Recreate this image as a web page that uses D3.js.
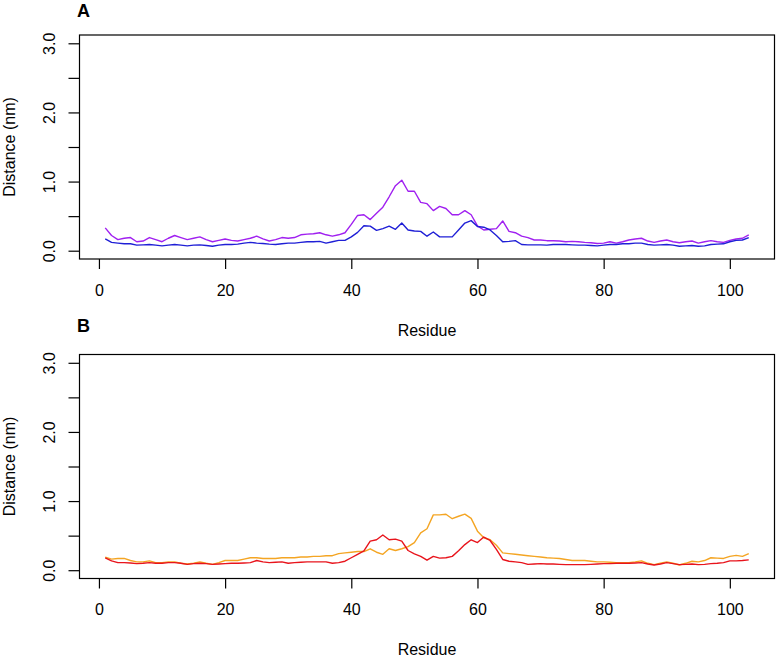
<!DOCTYPE html>
<html>
<head>
<meta charset="utf-8">
<script src="https://cdn.jsdelivr.net/npm/d3@7/dist/d3.min.js"></script>
<style>
  body { margin: 0; background: #fff; }
  svg { display: block; font-family: "Liberation Sans", Arial, Helvetica, sans-serif; }
</style>
</head>
<body>
<svg id="chart" width="779" height="659"></svg>
<script>
// ---- Data ----
const residues = d3.range(1, 104);
const xTicks = [0, 20, 40, 60, 80, 100];
const yTicks = [0, 0.5, 1, 1.5, 2, 2.5, 3];
const yTickLabels = ["0.0", "", "1.0", "", "2.0", "", "3.0"];
const panelTitles = ["A", "B"];

const seriesA_purple = [0.33,0.22,0.16,0.18,0.19,0.13,0.14,0.19,0.16,0.13,0.18,0.22,0.19,0.16,0.18,0.20,0.16,0.13,0.15,0.17,
0.15,0.14,0.16,0.18,0.21,0.17,0.14,0.16,0.19,0.18,0.19,0.23,0.24,0.245,0.26,0.23,0.21,0.23,0.26,0.38,
0.51,0.52,0.45,0.54,0.63,0.78,0.94,1.02,0.86,0.86,0.70,0.68,0.58,0.64,0.61,0.52,0.52,0.58,0.52,0.36,
0.30,0.31,0.32,0.43,0.28,0.26,0.21,0.19,0.155,0.155,0.145,0.145,0.14,0.13,0.135,0.13,0.12,0.115,0.105,0.11,
0.13,0.11,0.13,0.155,0.17,0.18,0.14,0.12,0.14,0.155,0.13,0.115,0.13,0.14,0.11,0.13,0.145,0.13,0.12,0.15,
0.17,0.18,0.23];
const seriesA_blue = [0.17,0.12,0.11,0.10,0.10,0.08,0.085,0.09,0.08,0.07,0.08,0.09,0.08,0.07,0.08,0.085,0.075,0.065,0.08,0.09,
0.09,0.095,0.11,0.12,0.11,0.105,0.095,0.09,0.10,0.11,0.11,0.12,0.13,0.13,0.135,0.11,0.13,0.15,0.15,0.20,
0.265,0.36,0.355,0.295,0.32,0.355,0.31,0.40,0.30,0.285,0.28,0.21,0.27,0.20,0.20,0.20,0.30,0.40,0.435,0.35,
0.34,0.30,0.22,0.13,0.135,0.145,0.09,0.085,0.085,0.085,0.08,0.09,0.09,0.09,0.085,0.08,0.08,0.075,0.07,0.08,
0.09,0.09,0.10,0.10,0.11,0.11,0.09,0.08,0.085,0.09,0.08,0.065,0.07,0.075,0.065,0.07,0.09,0.095,0.10,0.13,
0.15,0.155,0.19];
const seriesB_orange = [0.19,0.16,0.17,0.17,0.14,0.12,0.12,0.135,0.11,0.11,0.12,0.12,0.10,0.09,0.10,0.12,0.10,0.085,0.11,0.14,
0.14,0.14,0.16,0.18,0.18,0.17,0.17,0.17,0.18,0.18,0.18,0.19,0.19,0.20,0.20,0.21,0.21,0.24,0.25,0.26,
0.27,0.27,0.31,0.26,0.23,0.31,0.285,0.31,0.34,0.40,0.54,0.60,0.80,0.80,0.81,0.745,0.78,0.81,0.75,0.565,
0.47,0.44,0.36,0.25,0.24,0.23,0.22,0.21,0.20,0.19,0.18,0.175,0.17,0.155,0.14,0.14,0.14,0.13,0.12,0.12,
0.115,0.11,0.11,0.11,0.12,0.135,0.10,0.08,0.10,0.12,0.10,0.075,0.10,0.13,0.12,0.14,0.18,0.175,0.17,0.20,
0.215,0.20,0.24];
const seriesB_red = [0.18,0.135,0.11,0.11,0.105,0.095,0.10,0.11,0.10,0.10,0.11,0.11,0.10,0.085,0.095,0.10,0.095,0.085,0.09,0.095,
0.10,0.10,0.105,0.11,0.14,0.12,0.11,0.115,0.12,0.10,0.11,0.115,0.12,0.12,0.12,0.12,0.10,0.11,0.13,0.18,
0.23,0.28,0.42,0.44,0.51,0.44,0.45,0.42,0.285,0.235,0.20,0.145,0.20,0.175,0.18,0.20,0.28,0.37,0.44,0.40,
0.48,0.43,0.30,0.155,0.13,0.12,0.11,0.085,0.09,0.095,0.09,0.09,0.085,0.08,0.08,0.08,0.08,0.085,0.09,0.095,
0.095,0.10,0.10,0.10,0.105,0.11,0.09,0.075,0.09,0.11,0.095,0.08,0.085,0.09,0.08,0.085,0.095,0.10,0.11,0.135,
0.135,0.14,0.15];

const panels = [
  { title: panelTitles[0], series: [seriesA_purple, seriesA_blue], colors: ["#A020F0", "#1F1FD6"], top: 35 },
  { title: panelTitles[1], series: [seriesB_orange, seriesB_red], colors: ["#F4A523", "#E8141C"], top: 354.5 }
];

const svg = d3.select("#chart");
const left = 79.5, right = 774.5, plotH = 224;
const x = d3.scaleLinear().domain([-3.08, 107.08]).range([left, right]);

panels.forEach((p, i) => {
  const top = p.top, bottom = top + plotH;
  const y = d3.scaleLinear().domain([-0.12, 3.12]).range([bottom, top]);
  const g = svg.append("g");

  // data lines (clipped to box)
  const line = d3.line().x((d, j) => x(residues[j])).y(d => y(d));
  p.series.forEach((s, k) => {
    g.append("path").datum(s)
      .attr("d", line)
      .attr("fill", "none")
      .attr("stroke", p.colors[k])
      .attr("stroke-width", 1.4)
      .attr("stroke-linejoin", "round");
  });

  // box
  g.append("rect")
    .attr("x", left).attr("y", top)
    .attr("width", right - left).attr("height", plotH)
    .attr("fill", "none").attr("stroke", "#000").attr("stroke-width", 1.2);

  // x axis
  const xAxis = d3.axisBottom(x).tickValues(xTicks).tickSize(10).tickPadding(10).tickSizeOuter(0);
  const xa = g.append("g").attr("transform", `translate(0,${bottom})`).call(xAxis);
  xa.select(".domain").remove();
  xa.selectAll("line").attr("stroke", "#000").attr("stroke-width", 1.2);
  xa.selectAll("text").attr("font-size", 16).attr("fill", "#000")
    .attr("font-family", "Liberation Sans, Arial, sans-serif")
    .attr("dy", null).attr("y", 36.5);

  // y axis
  const yAxis = d3.axisLeft(y).tickValues(yTicks).tickSize(11).tickSizeOuter(0)
    .tickFormat((d, j) => yTickLabels[j]);
  const ya = g.append("g").attr("transform", `translate(${left},0)`).call(yAxis);
  ya.select(".domain").remove();
  ya.selectAll("line").attr("stroke", "#000").attr("stroke-width", 1.2);
  ya.selectAll("text")
    .attr("font-size", 16).attr("fill", "#000")
    .attr("font-family", "Liberation Sans, Arial, sans-serif")
    .attr("x", null).attr("dy", null)
    .attr("text-anchor", "middle")
    .attr("transform", `translate(${55 - left},0) rotate(-90)`);

  // axis titles
  g.append("text")
    .attr("x", (left + right) / 2).attr("y", bottom + 76.5)
    .attr("text-anchor", "middle").attr("font-size", 16).attr("fill", "#000")
    .text("Residue");
  g.append("text")
    .attr("transform", `translate(15,${(top + bottom) / 2}) rotate(-90)`)
    .attr("text-anchor", "middle").attr("font-size", 16).attr("fill", "#000")
    .text("Distance (nm)");

  // panel title
  g.append("text")
    .attr("x", 77).attr("y", i === 0 ? 17 : 332)
    .attr("font-size", 18).attr("font-weight", "bold").attr("fill", "#000")
    .text(p.title);
});
</script>
</body>
</html>
